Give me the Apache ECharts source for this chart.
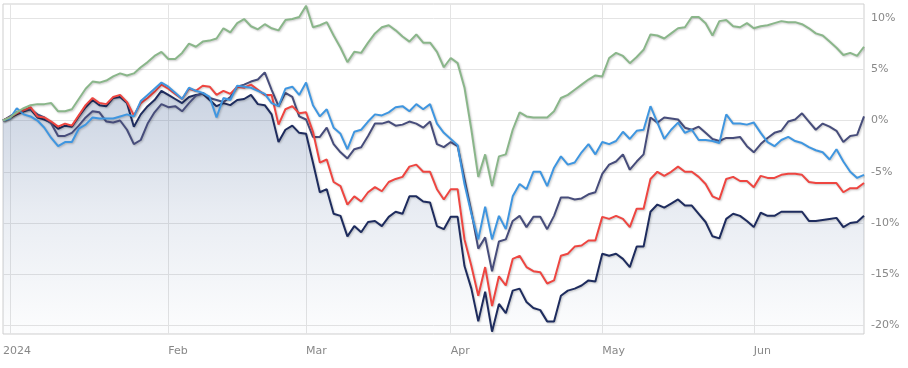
<!DOCTYPE html>
<html>
<head>
<meta charset="utf-8">
<script src="https://cdn.jsdelivr.net/npm/echarts@6/dist/echarts.min.js"></script>
<style>
  html, body { margin: 0; padding: 0; background: #ffffff; }
  #chart { width: 908px; height: 368px; }
</style>
</head>
<body>
<div id="chart"></div>
<script>
// ---- data (percent change), one value per trading day ----
const startDate = '2023-12-29';
const holidays = ['2024-02-19', '2024-05-27'];
const monthNames = ['Jan','Feb','Mar','Apr','May','Jun','Jul','Aug','Sep','Oct','Nov','Dec'];
const yTicks = [-20, -15, -10, -5, 0, 5, 10];

const green = [0,0.3,0.8,1.2,1.5,1.6,1.6,1.7,0.9,0.9,
  1.1,2.1,3.1,3.8,3.7,3.9,4.3,4.6,4.4,4.6,
  5.2,5.7,6.3,6.7,6.0,6.0,6.6,7.5,7.2,7.7,
  7.8,8.0,9.0,8.6,9.5,9.9,9.2,8.9,9.4,9.0,
  8.8,9.8,9.9,10.1,11.2,9.1,9.3,9.6,8.3,7.1,
  5.7,6.7,6.6,7.6,8.5,9.1,9.3,8.8,8.2,7.7,
  8.4,7.6,7.6,6.7,5.2,6.1,5.6,3.2,-0.9,-5.5,
  -3.3,-6.4,-3.5,-3.3,-0.9,0.8,0.4,0.3,0.3,0.3,
  0.9,2.2,2.5,3.0,3.5,4.0,4.4,4.3,6.1,6.6,
  6.3,5.6,6.2,6.9,8.4,8.3,8.0,8.5,9.0,9.1,
  10.1,10.1,9.5,8.3,9.7,9.8,9.2,9.1,9.5,9.0,
  9.2,9.3,9.5,9.7,9.6,9.6,9.4,9.0,8.5,8.3,
  7.7,7.1,6.4,6.6,6.3,7.2];

const blue = [0,0.2,1.2,0.6,0.4,0,-0.7,-1.7,-2.5,-2.1,
  -2.1,-0.8,-0.4,0.3,0.2,0.2,0.2,0.4,0.6,0.4,
  1.9,2.5,3.1,3.7,3.3,2.7,2.1,3.2,2.9,2.7,
  2.3,0.3,2.2,2.0,3.4,3.3,3.2,2.9,2.6,1.7,
  1.4,3.1,3.3,2.5,3.7,1.5,0.4,1.1,-0.7,-1.3,
  -2.8,-1.1,-0.9,-0.1,0.6,0.5,0.8,1.3,1.4,0.9,
  1.6,1.1,1.6,-0.3,-1.2,-1.8,-2.4,-6.2,-9.1,-11.6,
  -8.4,-11.6,-9.3,-10.6,-7.4,-6.2,-6.7,-5.0,-5.0,-6.4,
  -4.6,-3.5,-4.3,-4.1,-3.1,-2.3,-3.3,-2.1,-2.3,-2.0,
  -1.1,-1.8,-1.0,-0.9,1.4,-0.2,-1.8,-0.9,-0.2,-1.2,
  -0.9,-1.9,-1.9,-2.0,-2.2,0.6,-0.3,-0.3,-0.4,-0.2,
  -1.2,-2.1,-2.5,-1.9,-1.6,-2.0,-2.2,-2.6,-2.9,-3.1,
  -3.8,-2.8,-4.0,-5.0,-5.6,-5.3];

const red = [0,0.3,0.7,1.0,1.3,0.4,0.3,-0.1,-0.6,-0.3,
  -0.5,0.5,1.5,2.2,1.7,1.6,2.3,2.5,1.8,0.5,
  1.7,2.2,2.8,3.5,3.1,2.6,2.1,3.1,2.9,3.4,
  3.3,2.5,2.9,2.6,3.3,3.2,3.5,3.0,2.5,2.5,
  -0.4,1.1,1.4,0.7,0.8,-1.1,-4.1,-3.8,-6.0,-6.4,
  -8.2,-7.4,-7.9,-7.0,-6.5,-6.9,-6.0,-5.7,-5.5,-4.5,
  -4.3,-5.0,-5.0,-6.7,-7.7,-6.7,-6.7,-11.6,-14.2,-17.1,
  -14.3,-18.1,-15.2,-16.1,-13.5,-13.2,-14.3,-14.7,-14.8,-15.9,
  -15.6,-13.2,-13.0,-12.3,-12.2,-11.7,-11.7,-9.4,-9.6,-9.3,
  -9.6,-10.4,-8.6,-8.6,-5.7,-5.0,-5.4,-5.0,-4.5,-5.0,
  -5.0,-5.5,-6.2,-7.4,-7.7,-5.7,-5.5,-5.9,-5.9,-6.5,
  -5.4,-5.6,-5.6,-5.3,-5.2,-5.2,-5.3,-6.0,-6.1,-6.1,
  -6.1,-6.1,-7.0,-6.6,-6.6,-6.1];

const navy = [0,0.3,0.6,0.9,1.1,0.3,0.1,-0.2,-0.8,-0.5,
  -0.6,0.4,1.3,2.0,1.5,1.4,2.2,2.3,1.7,-0.6,
  0.6,1.4,2.0,2.9,2.5,2.1,1.7,2.3,2.5,2.6,
  2.0,1.4,1.7,1.5,2.0,2.1,2.5,1.6,1.5,0.6,
  -2.1,-0.9,-0.5,-1.2,-1.3,-4.1,-7.0,-6.7,-9.1,-9.3,
  -11.3,-10.3,-10.9,-9.9,-9.8,-10.3,-9.4,-8.9,-9.1,-7.4,
  -7.4,-7.9,-8.0,-10.3,-10.6,-9.4,-9.4,-14.2,-16.4,-19.6,
  -16.7,-20.6,-17.9,-18.8,-16.6,-16.4,-17.7,-18.3,-18.5,-19.6,
  -19.6,-17.1,-16.6,-16.4,-16.1,-15.6,-15.7,-13.0,-13.2,-13.0,
  -13.5,-14.3,-12.3,-12.3,-8.9,-8.2,-8.5,-8.1,-7.7,-8.3,
  -8.3,-9.1,-9.9,-11.3,-11.5,-9.6,-9.1,-9.3,-9.8,-10.4,
  -9.0,-9.3,-9.3,-8.9,-8.9,-8.9,-8.9,-9.8,-9.8,-9.7,
  -9.6,-9.5,-10.4,-10.0,-9.9,-9.3];

const slate = [0,0.4,0.8,1.0,1.1,0.6,0.3,-0.3,-1.5,-1.5,
  -1.2,-0.5,0.3,0.9,0.8,-0.1,-0.2,0,-0.9,-2.3,
  -1.9,-0.3,0.8,1.6,1.3,1.4,0.9,1.7,2.4,2.7,
  2.2,2.0,1.8,2.3,3.3,3.5,3.8,4.0,4.7,3.0,
  1.4,2.7,2.3,0.4,0.1,-1.6,-1.6,-0.7,-2.3,-3.1,
  -3.7,-2.8,-2.6,-1.5,-0.3,-0.3,-0.1,-0.5,-0.4,-0.1,
  -0.3,-0.7,-0.1,-2.3,-2.6,-2.1,-2.5,-5.7,-8.9,-12.5,
  -11.4,-14.7,-11.8,-11.6,-9.8,-9.3,-10.4,-9.4,-9.4,-10.6,
  -9.3,-7.5,-7.5,-7.7,-7.6,-7.2,-7.0,-5.2,-4.3,-4.0,
  -3.3,-4.8,-4.0,-3.3,0.3,-0.2,0.3,0.2,0.1,-0.7,
  -0.9,-0.6,-1.2,-1.8,-2.0,-1.7,-1.7,-1.6,-2.5,-3.1,
  -2.3,-1.7,-1.2,-1.0,-0.1,0.1,0.7,-0.1,-0.9,-0.3,
  -0.6,-1.0,-2.1,-1.5,-1.4,0.4];

// ---- trading-day categories ----
function pad(n) { return (n < 10 ? '0' : '') + n; }
const categories = [];
(function () {
  const p = startDate.split('-').map(Number);
  let t = Date.UTC(p[0], p[1] - 1, p[2]);
  while (categories.length < green.length) {
    const d = new Date(t);
    const s = d.getUTCFullYear() + '-' + pad(d.getUTCMonth() + 1) + '-' + pad(d.getUTCDate());
    const wd = d.getUTCDay();
    if (wd !== 0 && wd !== 6 && holidays.indexOf(s) < 0) categories.push(s);
    t += 86400000;
  }
})();
function monthOf(s) { return Number(s.slice(5, 7)) - 1; }
function isMonthStart(i) {
  return i > 0 && monthOf(categories[i]) !== monthOf(categories[i - 1]);
}
// the year label sits clamped at the plot's left edge
function showLabel(i) {
  if (i === 0) return true;
  return isMonthStart(i) && !(i === 1 && monthOf(categories[1]) === 0);
}
function labelText(v, i) {
  if (i === 0) return categories[1].slice(0, 4);
  const m = monthOf(v);
  return m === 0 ? v.slice(0, 4) : monthNames[m];
}

const font = 'DejaVu Sans, Verdana, sans-serif';
const shadow = { shadowColor: 'rgba(0,0,0,0.22)', shadowBlur: 2, shadowOffsetX: 1, shadowOffsetY: 1 };

function lineSeries(name, data, color, z, extra) {
  return Object.assign({
    name: name,
    type: 'line',
    data: data,
    symbol: 'none',
    z: z,
    lineStyle: Object.assign({ color: color, width: 2 }, shadow),
    itemStyle: { color: color },
    emphasis: { disabled: true }
  }, extra || {});
}

const chart = echarts.init(document.getElementById('chart'), null, { renderer: 'canvas' });
chart.setOption({
  animation: false,
  backgroundColor: '#ffffff',
  grid: {
    left: 1, right: 44, top: 4, bottom: 34,
    show: true, borderColor: '#cfcfcf', borderWidth: 1,
    backgroundColor: 'transparent'
  },
  xAxis: {
    type: 'category',
    data: categories,
    boundaryGap: false,
    axisLine: { show: false },
    axisTick: { show: false },
    axisLabel: {
      interval: function (i) { return showLabel(i); },
      formatter: function (v, i) { return labelText(v, i); },
      color: '#888888',
      fontSize: 11,
      fontFamily: font,
      align: 'left',
      margin: 12
    },
    splitLine: {
      show: true,
      interval: function (i) { return isMonthStart(i); },
      lineStyle: { color: '#e4e4e4', width: 1 }
    }
  },
  yAxis: {
    type: 'value',
    position: 'right',
    min: -20.83,
    max: 11.37,
    axisLine: { show: false },
    axisTick: { show: false, customValues: yTicks },
    axisLabel: {
      customValues: yTicks,
      formatter: function (v) { return v + '%'; },
      color: '#888888',
      fontSize: 11,
      fontFamily: font,
      margin: 7
    },
    splitLine: { show: true, lineStyle: { color: '#e4e4e4', width: 1 } }
  },
  series: [
    lineSeries('navy', navy, '#1e2c5e', 1, {
      areaStyle: {
        origin: 'start',
        color: new echarts.graphic.LinearGradient(0, 0, 0, 1, [
          { offset: 0, color: 'rgba(66,98,150,0.40)' },
          { offset: 0.5, color: 'rgba(66,98,150,0.17)' },
          { offset: 1, color: 'rgba(66,98,150,0.02)' }
        ])
      }
    }),
    lineSeries('slate', slate, '#474d7b', 2),
    lineSeries('red', red, '#ee4641', 3),
    lineSeries('blue', blue, '#3f96e0', 4),
    lineSeries('green', green, '#8ab68a', 5)
  ]
});
</script>
</body>
</html>
